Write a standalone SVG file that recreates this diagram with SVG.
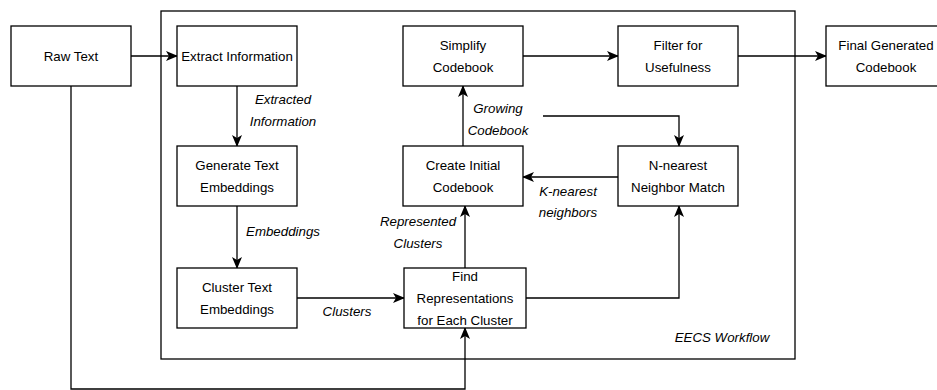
<svg xmlns="http://www.w3.org/2000/svg" width="937" height="390" viewBox="0 0 937 390">
<style>
  .box { fill: #ffffff; stroke: #000000; stroke-width: 1.3; }
  .lbl { font-family: "Liberation Sans", Arial, Helvetica, sans-serif; font-size: 13.3px; fill: #000000; text-anchor: middle; }
  .it { font-style: italic; }
  .edge { fill: none; stroke: #000000; stroke-width: 1.3; }
</style>
<defs>
  <marker id="arr" viewBox="0 0 12 10" refX="11" refY="5" markerWidth="12" markerHeight="10" markerUnits="userSpaceOnUse" orient="auto">
    <path d="M0,0 L12,5 L0,10 L3,5 Z" fill="#000000"/>
  </marker>
</defs>
<rect width="937" height="390" fill="#ffffff"/>

<g id="container">
  <rect x="161" y="11" width="634" height="348" class="box"/>
  <text class="lbl it" x="722" y="342">EECS Workflow</text>
</g>

<g id="connectors">
  <path class="edge" d="M131,56 L177,56" marker-end="url(#arr)"/>
  <path class="edge" d="M237,86 L237,146" marker-end="url(#arr)"/>
  <path class="edge" d="M237,206 L237,268" marker-end="url(#arr)"/>
  <path class="edge" d="M297,298 L404,298" marker-end="url(#arr)"/>
  <path class="edge" d="M465,268 L465,206" marker-end="url(#arr)"/>
  <path class="edge" d="M463,146 L463,86" marker-end="url(#arr)"/>
  <path class="edge" d="M543,116 L679,116 L679,146" marker-end="url(#arr)"/>
  <path class="edge" d="M618,177 L523,177" marker-end="url(#arr)"/>
  <path class="edge" d="M526,298 L679,298 L679,206" marker-end="url(#arr)"/>
  <path class="edge" d="M523,56 L618,56" marker-end="url(#arr)"/>
  <path class="edge" d="M738,56 L826,56" marker-end="url(#arr)"/>
  <path class="edge" d="M71,86 L71,389 L465,389 L465,328" marker-end="url(#arr)"/>
  <text class="lbl it" x="283" y="104">Extracted</text>
  <text class="lbl it" x="283" y="126">Information</text>
  <text class="lbl it" x="283" y="236">Embeddings</text>
  <text class="lbl it" x="347" y="316">Clusters</text>
  <text class="lbl it" x="418" y="226">Represented</text>
  <text class="lbl it" x="418" y="248">Clusters</text>
  <text class="lbl it" x="498" y="113">Growing</text>
  <text class="lbl it" x="498" y="135">Codebook</text>
  <text class="lbl it" x="568" y="196">K-nearest</text>
  <text class="lbl it" x="568" y="217">neighbors</text>
</g>

<g id="raw-text">
  <rect x="11" y="26" width="120" height="60" class="box"/>
  <text class="lbl" x="71" y="61">Raw Text</text>
</g>
<g id="extract-information">
  <rect x="177" y="26" width="120" height="60" class="box"/>
  <text class="lbl" x="237" y="61">Extract Information</text>
</g>
<g id="generate-text-embeddings">
  <rect x="177" y="146" width="120" height="60" class="box"/>
  <text class="lbl" x="237" y="170">Generate Text</text>
  <text class="lbl" x="237" y="192">Embeddings</text>
</g>
<g id="cluster-text-embeddings">
  <rect x="177" y="268" width="120" height="60" class="box"/>
  <text class="lbl" x="237" y="292">Cluster Text</text>
  <text class="lbl" x="237" y="314">Embeddings</text>
</g>
<g id="find-representations">
  <rect x="404" y="268" width="122" height="60" class="box"/>
  <text class="lbl" x="465" y="281">Find</text>
  <text class="lbl" x="465" y="303">Representations</text>
  <text class="lbl" x="465" y="325">for Each Cluster</text>
</g>
<g id="create-initial-codebook">
  <rect x="403" y="146" width="120" height="60" class="box"/>
  <text class="lbl" x="463" y="170">Create Initial</text>
  <text class="lbl" x="463" y="192">Codebook</text>
</g>
<g id="simplify-codebook">
  <rect x="403" y="26" width="120" height="60" class="box"/>
  <text class="lbl" x="463" y="50">Simplify</text>
  <text class="lbl" x="463" y="72">Codebook</text>
</g>
<g id="filter-for-usefulness">
  <rect x="618" y="26" width="120" height="60" class="box"/>
  <text class="lbl" x="678" y="50">Filter for</text>
  <text class="lbl" x="678" y="72">Usefulness</text>
</g>
<g id="n-nearest-neighbor-match">
  <rect x="618" y="146" width="120" height="60" class="box"/>
  <text class="lbl" x="678" y="170">N-nearest</text>
  <text class="lbl" x="678" y="192">Neighbor Match</text>
</g>
<g id="final-generated-codebook">
  <rect x="826" y="26" width="120" height="60" class="box"/>
  <text class="lbl" x="886" y="50">Final Generated</text>
  <text class="lbl" x="886" y="72">Codebook</text>
</g>
</svg>
